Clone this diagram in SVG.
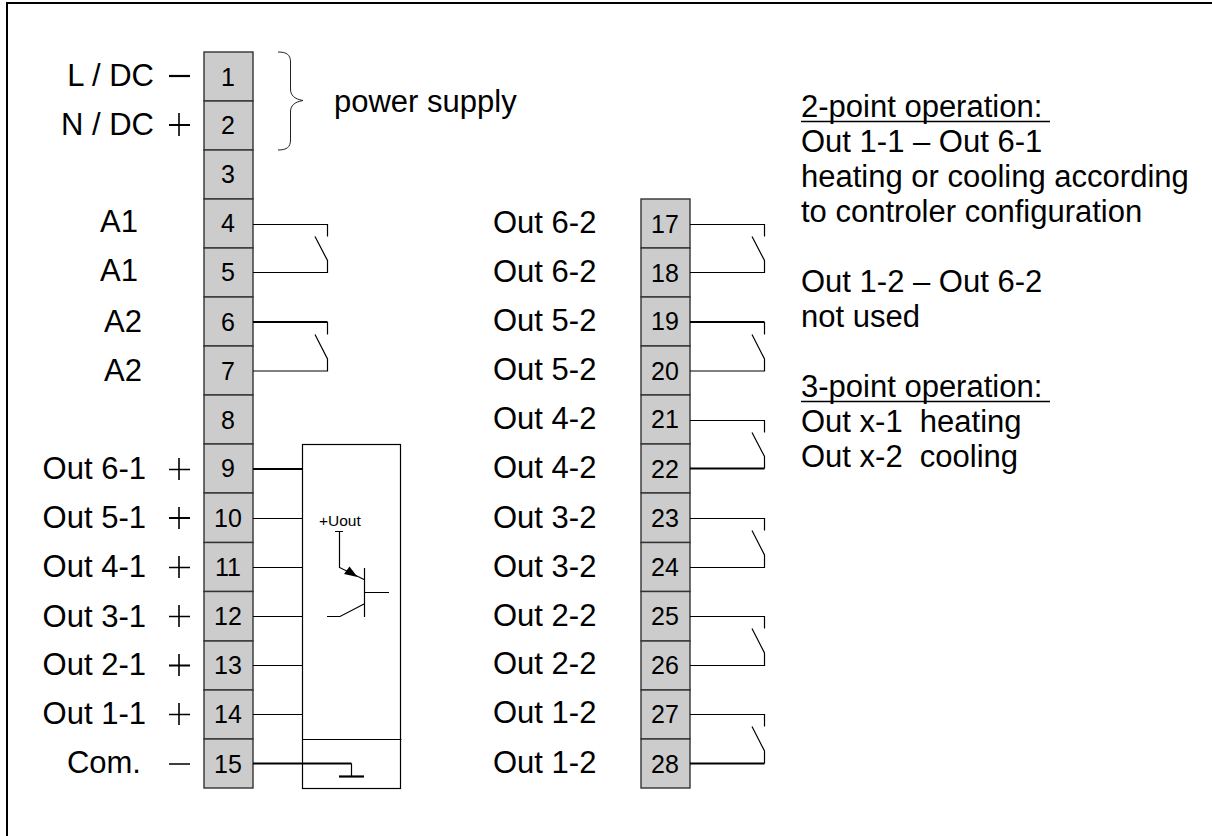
<svg xmlns="http://www.w3.org/2000/svg" width="1212" height="836" viewBox="0 0 1212 836">
<style>
text{font-family:"Liberation Sans",Arial,sans-serif;fill:#000;white-space:pre}
.l{font-size:31px}
.la{font-size:31px;text-anchor:end}
.n{font-size:25px;text-anchor:middle}
.t{fill:#ccc;stroke:#333;stroke-width:1.4}
.w{fill:none;stroke:#000;stroke-width:1.2}
.b{fill:none;stroke:#000;stroke-width:1.6}
.h{fill:none;stroke:#000;stroke-width:2.2}
.s{fill:none;stroke:#222;stroke-width:1}
</style>
<rect width="1212" height="836" fill="#fff"/>
<rect x="7" y="3" width="1210" height="880" fill="none" stroke="#000" stroke-width="2"/>
<g id="terminals-left">
<g id="t1"><rect class="t" x="204" y="52" width="49" height="49"/><text class="n" x="228" y="86">1</text></g>
<g id="t2"><rect class="t" x="204" y="101" width="49" height="49"/><text class="n" x="228" y="134">2</text></g>
<g id="t3"><rect class="t" x="204" y="150" width="49" height="49"/><text class="n" x="228" y="183">3</text></g>
<g id="t4"><rect class="t" x="204" y="199" width="49" height="49"/><text class="n" x="228" y="232">4</text></g>
<g id="t5"><rect class="t" x="204" y="248" width="49" height="49"/><text class="n" x="228" y="281">5</text></g>
<g id="t6"><rect class="t" x="204" y="297" width="49" height="49"/><text class="n" x="228" y="331">6</text></g>
<g id="t7"><rect class="t" x="204" y="346" width="49" height="49"/><text class="n" x="228" y="380">7</text></g>
<g id="t8"><rect class="t" x="204" y="395" width="49" height="49"/><text class="n" x="228" y="429">8</text></g>
<g id="t9"><rect class="t" x="204" y="444" width="49" height="49"/><text class="n" x="228" y="477">9</text></g>
<g id="t10"><rect class="t" x="204" y="493" width="49" height="49.500"/><text class="n" x="228" y="527">10</text></g>
<g id="t11"><rect class="t" x="204" y="542.500" width="49" height="49"/><text class="n" x="228" y="576">11</text></g>
<g id="t12"><rect class="t" x="204" y="591.500" width="49" height="49.500"/><text class="n" x="228" y="625">12</text></g>
<g id="t13"><rect class="t" x="204" y="641" width="49" height="49"/><text class="n" x="228" y="674">13</text></g>
<g id="t14"><rect class="t" x="204" y="690" width="49" height="49"/><text class="n" x="228" y="723">14</text></g>
<g id="t15"><rect class="t" x="204" y="739" width="49" height="49"/><text class="n" x="228" y="773">15</text></g>
</g>
<g id="terminals-right">
<g id="t17"><rect class="t" x="641" y="199" width="49" height="49"/><text class="n" x="665" y="233">17</text></g>
<g id="t18"><rect class="t" x="641" y="248" width="49" height="49"/><text class="n" x="665" y="282">18</text></g>
<g id="t19"><rect class="t" x="641" y="297" width="49" height="49"/><text class="n" x="665" y="330">19</text></g>
<g id="t20"><rect class="t" x="641" y="346" width="49" height="49"/><text class="n" x="665" y="380">20</text></g>
<g id="t21"><rect class="t" x="641" y="395" width="49" height="49"/><text class="n" x="665" y="428">21</text></g>
<g id="t22"><rect class="t" x="641" y="444" width="49" height="49"/><text class="n" x="665" y="478">22</text></g>
<g id="t23"><rect class="t" x="641" y="493" width="49" height="49.500"/><text class="n" x="665" y="527">23</text></g>
<g id="t24"><rect class="t" x="641" y="542.500" width="49" height="49"/><text class="n" x="665" y="576">24</text></g>
<g id="t25"><rect class="t" x="641" y="591.500" width="49" height="49.500"/><text class="n" x="665" y="625">25</text></g>
<g id="t26"><rect class="t" x="641" y="641" width="49" height="49"/><text class="n" x="665" y="674">26</text></g>
<g id="t27"><rect class="t" x="641" y="690" width="49" height="49"/><text class="n" x="665" y="723">27</text></g>
<g id="t28"><rect class="t" x="641" y="739" width="49" height="49"/><text class="n" x="665" y="773">28</text></g>
</g>
<g id="labels-left">
<text class="la" x="154" y="86">L / DC</text>
<text class="la" x="154" y="135">N / DC</text>
<text class="la" x="138" y="232">A1</text>
<text class="la" x="138" y="281">A1</text>
<text class="la" x="142" y="332">A2</text>
<text class="la" x="142" y="381">A2</text>
<text class="la" x="146" y="479">Out 6-1</text>
<text class="la" x="146" y="528">Out 5-1</text>
<text class="la" x="146" y="577">Out 4-1</text>
<text class="la" x="146" y="627">Out 3-1</text>
<text class="la" x="146" y="675">Out 2-1</text>
<text class="la" x="146" y="724">Out 1-1</text>
<text class="la" x="141" y="773">Com.</text>
</g>
<g id="labels-right">
<text class="l" x="493" y="233">Out 6-2</text>
<text class="l" x="493" y="282">Out 6-2</text>
<text class="l" x="493" y="331">Out 5-2</text>
<text class="l" x="493" y="380">Out 5-2</text>
<text class="l" x="493" y="429">Out 4-2</text>
<text class="l" x="493" y="478">Out 4-2</text>
<text class="l" x="493" y="528">Out 3-2</text>
<text class="l" x="493" y="577">Out 3-2</text>
<text class="l" x="493" y="626">Out 2-2</text>
<text class="l" x="493" y="674">Out 2-2</text>
<text class="l" x="493" y="723">Out 1-2</text>
<text class="l" x="493" y="773">Out 1-2</text>
</g>
<g id="notes">
<text class="l" x="334" y="112">power supply</text>
<text class="l" x="801" y="117">2-point operation:</text>
<text class="l" x="801" y="152">Out 1-1 – Out 6-1</text>
<text class="l" x="801" y="187">heating or cooling according</text>
<text class="l" x="801" y="222">to controler configuration</text>
<text class="l" x="801" y="292">Out 1-2 – Out 6-2</text>
<text class="l" x="801" y="327">not used</text>
<text class="l" x="801" y="397">3-point operation:</text>
<text class="l" x="801" y="432">Out x-1  heating</text>
<text class="l" x="801" y="467">Out x-2  cooling</text>
<path class="b" d="M801 121.500H1050M801 401.500H1050" stroke-width="1.800"/>
</g>
<g id="connectors">
<path class="h" d="M169 76H190" stroke-width="2.600"/>
<path class="h" d="M169 518H190M169 665.500H190M169 125H190"/>
<path class="b" d="M179 113V136M169 469.500H190M179 458V480M179 507V529M169 567.500H190M179 556V578M169 616.500H190M179 605V627M179 654V676M169 714.500H190M179 703V725M169 764H190"/>
<path class="s" d="M278 52C287 52 290.500 55 290.500 62V89C290.500 95 294 99 303 100.500C294 102 290.500 106 290.500 112V140C290.500 147 287 150 278 150"/>
<path class="w" d="M253 224.500H327.500V236.500M315 236.500L327.500 260.500V272.500H253"/>
<path class="h" d="M253 322H327.500"/>
<path class="w" d="M327.500 322V334.500M315 334.500L327.500 359V371H253"/>
<path class="w" d="M690 224.500H764.500V236.500M752 236.500L764.500 260.500V272.500H690"/>
<path class="h" d="M690 322H764.500"/>
<path class="w" d="M764.500 322V334.500M752 334.500L764.500 359V371H690"/>
<path class="w" d="M690 420.500H764.500V432.500M752 432.500L764.500 456.500V468.500"/>
<path class="h" d="M690 468.500H764.500"/>
<path class="w" d="M690 518.500H764.500V530.500M752 530.500L764.500 555V567.500H690"/>
<path class="w" d="M690 616.500H764.500V628.500M752 628.500L764.500 653V665.500H690"/>
<path class="w" d="M690 714.500H764.500V726.500M752 726.500L764.500 751V763.500"/>
<path class="h" d="M690 763.500H764.500"/>
<path class="h" d="M253 469H302"/>
<path class="w" d="M253 518.500H302M253 567.500H302M253 616.500H302M253 665.500H302M253 714.500H302"/>
<path class="h" d="M253 763.500H351.500"/>
<path class="w" d="M351.500 763.500V776"/>
<path class="h" d="M339 776.500H364" stroke-width="3"/>
</g>
<g id="output-module">
<rect class="w" x="302.500" y="444.500" width="98" height="344"/>
<path class="w" d="M302.500 739.500H401.500"/>
<text x="319" y="526" font-size="15.500">+Uout</text>
<path class="w" d="M335 531.500H343M339.500 531.500V567.500L364 579.500M364.500 568V617M364.500 592.500H389M327 616.500H340L364 604"/>
<path d="M349.500 566.500L357.500 577L344 574Z" fill="#000"/>
</g>
</svg>
